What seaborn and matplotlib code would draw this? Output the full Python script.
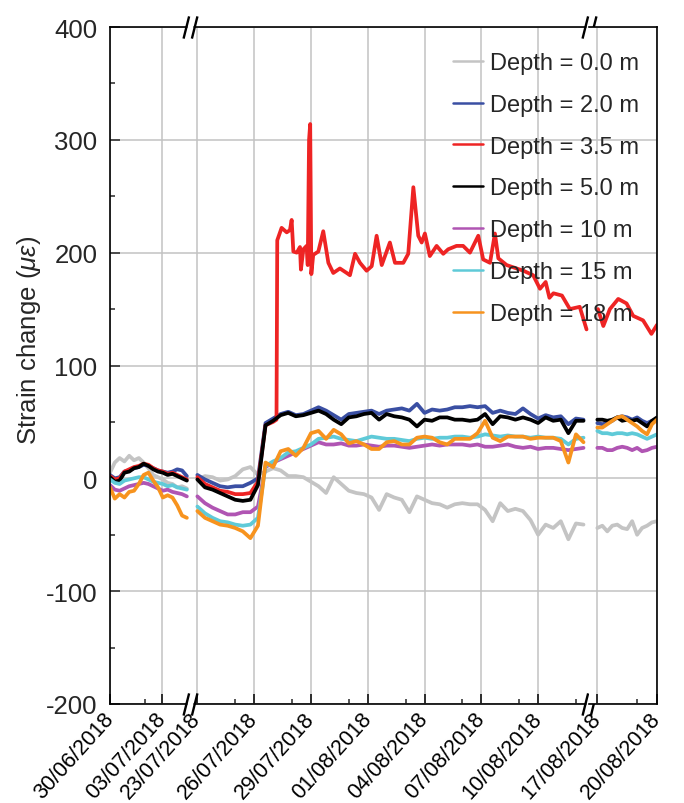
import numpy as np
import pandas as pd
import matplotlib
matplotlib.use("Agg")
import matplotlib.pyplot as plt
from matplotlib.path import Path
from matplotlib.lines import Line2D
import seaborn as sns

# ---------------- data (days counted from 30/06/2018) ----------------
depth_labels = ["Depth = 0.0 m", "Depth = 2.0 m", "Depth = 3.5 m", "Depth = 5.0 m",
                "Depth = 10 m", "Depth = 15 m", "Depth = 18 m"]
colors = ["#c4c4c4", "#3a4fa3", "#ee2424", "#000000", "#b055b3", "#5fcad8", "#f7931e"]

tick_days = [0, 3, 23, 26, 29, 32, 35, 38, 41, 48, 51]
tick_labels = ["30/06/2018", "03/07/2018", "23/07/2018", "26/07/2018", "29/07/2018",
               "01/08/2018", "04/08/2018", "07/08/2018", "10/08/2018", "17/08/2018",
               "20/08/2018"]
minor_days = [2, 25, 28, 31, 34, 37, 40, 43, 50]

# segment 1: 30/06 - 04/07
t1 = np.linspace(0.0, 4.4, 17)
gray1 = [5, 14, 18, 15, 20, 16, 18, 14, 9, 3, 1, -1, -4, -5, -8, -7, -9]
blue1 = [3, 0, 1, 6, 7, 9, 10, 12, 11, 9, 7, 6, 5, 6, 8, 7, 2]
red1 = [2, -1, 0, 6, 8, 10, 11, 13, 12, 9, 7, 6, 4, 5, 3, 1, -1]
black1 = [1, -3, -2, 5, 6, 9, 10, 13, 11, 8, 6, 5, 3, 4, 2, 0, -2]
purple1 = [-6, -10, -11, -9, -7, -6, -5, -4, -5, -7, -9, -11, -10, -12, -13, -14, -16]
cyan1 = [-1, -4, -5, -2, -1, 0, 1, 1, -1, -3, -4, -5, -7, -6, -8, -9, -10]
orange1 = [-8, -18, -14, -17, -12, -11, -5, 3, 5, -2, -8, -17, -15, -17, -24, -33, -35]

# segment 2: 23/07 - 12/08
t2 = np.arange(23.0, 43.5, 0.4)
gray2 = [-1, 2, 1, -2, -1, 2, 8, 10, 3, 6, 9, 7, 2, 2, 1, -3, -7,
         -13, 1, -5, -11, -13, -14, -17, -28, -14, -17, -19, -30, -16, -19, -22, -23, -26, -23, -22,
         -23, -23, -28, -38, -22, -29, -27, -29, -37, -50, -41, -44, -38, -54, -40, -41]
blue2 = [3, -1, -4, -7, -8, -7, -7, -4, 0, 49, 53, 57, 59, 56, 57, 60, 63,
         60, 56, 52, 57, 58, 59, 60, 57, 60, 61, 62, 60, 66, 58, 61, 60, 61, 63, 63,
         64, 63, 64, 58, 60, 58, 57, 62, 57, 53, 56, 54, 55, 48, 53, 52]
black2 = [-1, -8, -10, -13, -16, -19, -20, -19, -6, 47, 51, 56, 58, 55, 56, 58, 60,
          57, 52, 48, 54, 55, 57, 58, 52, 57, 55, 54, 52, 46, 52, 51, 54, 54, 52, 52,
          51, 52, 57, 48, 55, 54, 52, 54, 52, 49, 54, 51, 52, 40, 51, 51]
purple2 = [-16, -22, -26, -29, -32, -32, -30, -30, -25, 10, 14, 17, 20, 23, 26, 29, 32,
           30, 30, 31, 29, 29, 30, 29, 28, 29, 29, 28, 27, 28, 29, 30, 29, 30, 30, 30,
           29, 30, 28, 28, 29, 30, 28, 27, 28, 26, 27, 27, 26, 25, 26, 27]
cyan2 = [-25, -31, -35, -38, -39, -41, -42, -41, -35, 11, 15, 18, 23, 24, 27, 30, 35,
         36, 37, 35, 34, 33, 35, 37, 36, 35, 35, 34, 33, 35, 36, 35, 36, 36, 37, 37,
         36, 37, 39, 38, 37, 38, 37, 37, 36, 37, 36, 36, 35, 30, 35, 36]
orange2 = [-29, -35, -38, -41, -42, -44, -47, -53, -42, 14, 10, 24, 26, 20, 27, 40, 42,
           35, 43, 39, 31, 33, 30, 26, 26, 32, 33, 30, 30, 36, 37, 36, 32, 30, 35, 35,
           35, 40, 51, 36, 33, 37, 37, 37, 35, 36, 36, 36, 33, 14, 39, 32]
red2_t = [23.0, 23.4, 23.8, 24.2, 24.6, 25.0, 25.4, 25.8, 26.2, 26.6,
          27.0, 27.18, 27.22, 27.45, 27.72, 27.89, 27.98, 28.07, 28.25, 28.42,
          28.47, 28.6, 28.77, 28.83, 28.9, 28.96, 29.02, 29.12, 29.39, 29.65,
          29.92, 30.18, 30.53, 30.89, 31.06, 31.33, 31.59, 31.94, 32.21, 32.47,
          32.74, 33.17, 33.44, 33.88, 34.14, 34.41, 34.67, 34.85, 35.02, 35.28,
          35.64, 35.99, 36.25, 36.69, 37.04, 37.4, 37.84, 38.1, 38.46, 38.72,
          38.9, 39.34, 40.22, 40.74, 41.1, 41.4, 41.6, 41.81, 42.26, 42.68, 43.2, 43.56]
red2 = [1, -5, -8, -11, -12, -14, -14, -13, -3, 47,
        50, 52, 211, 222, 218, 220, 229, 201, 200, 205,
        185, 203, 206, 189, 300, 314, 181, 198, 201, 219,
        191, 182, 186, 182, 180, 199, 191, 184, 188, 215,
        189, 209, 191, 191, 199, 258, 215, 209, 217, 197,
        206, 199, 203, 206, 206, 200, 215, 194, 191, 217,
        195, 189, 184, 180, 168, 174, 160, 164, 162, 150, 152, 132]

# segment 3: 17/08 - 20/08
t3 = np.linspace(48.0, 51.0, 13)
gray3 = [-44, -42, -47, -42, -41, -44, -45, -38, -50, -44, -42, -39, -38]
blue3 = [49, 48, 49, 51, 54, 55, 54, 52, 54, 51, 49, 51, 52]
black3 = [52, 52, 51, 52, 54, 51, 52, 51, 52, 49, 46, 51, 54]
purple3 = [27, 27, 25, 25, 27, 28, 27, 25, 27, 24, 25, 27, 28]
cyan3 = [42, 40, 40, 39, 40, 40, 39, 40, 39, 37, 35, 37, 39]
orange3 = [45, 45, 48, 51, 54, 55, 52, 49, 46, 42, 39, 48, 52]
red3_t = [48.03, 48.3, 48.63, 49.05, 49.47, 49.8, 50.3, 50.72, 51.0]
red3 = [150, 135, 150, 159, 155, 144, 140, 128, 136]

# ---------------- long-form table ----------------
rows = []
def add(seg, label, t, v):
    for a, b in zip(t, v):
        rows.append((seg, label, float(a), float(b)))

seg_series = {
    1: [(t1, gray1), (t1, blue1), (t1, red1), (t1, black1), (t1, purple1), (t1, cyan1), (t1, orange1)],
    2: [(t2, gray2), (t2, blue2), (red2_t, red2), (t2, black2), (t2, purple2), (t2, cyan2), (t2, orange2)],
    3: [(t3, gray3), (t3, blue3), (red3_t, red3), (t3, black3), (t3, purple3), (t3, cyan3), (t3, orange3)],
}
for seg, lst in seg_series.items():
    for lab, (t, v) in zip(depth_labels, lst):
        add(seg, lab, t, v)
df = pd.DataFrame(rows, columns=["seg", "depth", "day", "strain"])

# ---------------- style ----------------
sns.set_theme(style="white")
plt.rcParams["font.family"] = ["Liberation Sans", "DejaVu Sans"]
plt.rcParams["mathtext.fontset"] = "custom"
plt.rcParams["mathtext.rm"] = "Liberation Sans"
plt.rcParams["mathtext.it"] = "Liberation Sans:italic"
plt.rcParams["axes.unicode_minus"] = False

W, H = 684, 804
fig = plt.figure(figsize=(W / 100, H / 100), dpi=100)
bottom = 1 - 705 / H
height = 677 / H
seg_px = [(110, 190), (190, 589), (589, 657)]
seg_lims = [(0.0, 4.58), (22.61, 43.69), (47.58, 51.0)]
axes = []
for (x0, x1) in seg_px:
    axes.append(fig.add_axes([x0 / W, bottom, (x1 - x0) / W, height]))

palette = dict(zip(depth_labels, colors))
for k, ax in enumerate(axes, start=1):
    sub = df[df.seg == k]
    sns.lineplot(data=sub, x="day", y="strain", hue="depth", hue_order=depth_labels,
                 palette=palette, estimator=None, legend=False, linewidth=2.7, ax=ax)
    lo, hi = seg_lims[k - 1]
    ax.set_xlim(lo, hi)
    ax.set_ylim(-200, 400)
    ax.set_xlabel("")
    ax.set_ylabel("")
    maj = [d for d in tick_days if lo <= d <= hi]
    labs = [l for d, l in zip(tick_days, tick_labels) if lo <= d <= hi]
    ax.set_xticks(maj)
    ax.set_xticklabels(labs, fontsize=15.5, rotation=48, ha="right", va="center",
                       rotation_mode="anchor")
    ax.set_xticks([d for d in minor_days if lo <= d <= hi], minor=True)
    ax.set_yticks(np.arange(-200, 401, 100))
    ax.set_yticks(np.arange(-150, 400, 100), minor=True)
    ax.grid(True, which="major", color="#c2c2c2", lw=1.1)
    ax.set_axisbelow(True)
    ax.tick_params(axis="x", which="major", direction="in", length=7, width=1.1,
                   pad=8, colors="black", top=False, bottom=True)
    ax.tick_params(axis="x", which="minor", direction="in", length=3.5, width=1.1,
                   top=False, bottom=True)
    for s in ax.spines.values():
        s.set_linewidth(1.2)
        s.set_color("black")
    if k == 1:
        ax.tick_params(axis="y", which="major", direction="in", length=7, width=1.1,
                       labelsize=18.5, pad=9, left=True)
        ax.tick_params(axis="y", which="minor", direction="in", length=3.5, width=1.1,
                       left=True)
        ax.spines["right"].set_visible(False)
    else:
        ax.tick_params(axis="y", which="both", left=False, right=False, labelleft=False)
        ax.spines["left"].set_visible(False)
        if k == 2:
            ax.spines["right"].set_visible(False)

axes[0].set_ylabel(r"Strain change ($\mu\varepsilon$)", fontsize=18.5)
axes[0].yaxis.set_label_coords(-0.84, 0.538)

# ---------------- axis-break marks ----------------
gap_marker = Path([(-3, -1.6), (3, -1.6), (3, 1.6), (-3, 1.6), (-3, -1.6)])
brk_marker = Path([(-5, -8), (-1, 8), (1, -8), (5, 8)],
                  [Path.MOVETO, Path.LINETO, Path.MOVETO, Path.LINETO])
ax2 = axes[1]
bx, by = [0, 0, 1, 1], [0, 1, 0, 1]
ax2.plot(bx, by, transform=ax2.transAxes, ls="none", marker=gap_marker, ms=5,
         mfc="white", mec="none", clip_on=False, zorder=20)
ax2.plot(bx, by, transform=ax2.transAxes, ls="none", marker=brk_marker, ms=16,
         mfc="none", mec="black", mew=1.7, clip_on=False, zorder=21)

# ---------------- legend ----------------
handles = [Line2D([], [], color=c, lw=1.8) for c in colors]
fig.legend(handles, depth_labels, loc="upper left",
           bbox_to_anchor=(453 / W, 1 - 53 / H), frameon=False, fontsize=17,
           handlelength=1.25, handletextpad=0.3, labelspacing=0.84,
           borderpad=0, borderaxespad=0)

fig.savefig("out.png", dpi=100)
